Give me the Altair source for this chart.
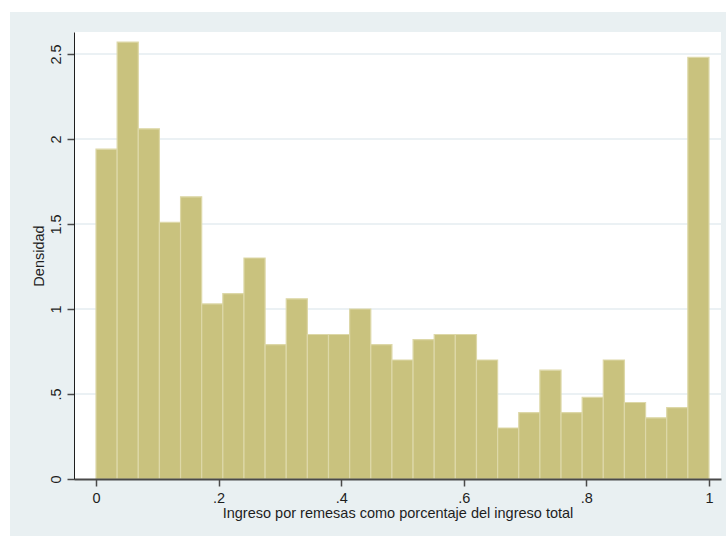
import altair as alt
import pandas as pd

# Histogram of remittance share of total household income (29 equal bins on [0, 1])
n_bins = 29
densities = [1.94, 2.57, 2.06, 1.51, 1.66, 1.03, 1.09, 1.30, 0.79, 1.06,
             0.85, 0.85, 1.00, 0.79, 0.70, 0.82, 0.85, 0.85, 0.70, 0.30,
             0.39, 0.64, 0.39, 0.48, 0.70, 0.45, 0.36, 0.42, 2.48]
x_ticks = [0, 0.2, 0.4, 0.6, 0.8, 1]
y_ticks = [0, 0.5, 1, 1.5, 2, 2.5]
grid_levels = [0.5, 1, 1.5, 2, 2.5]

bin_width = 1 / n_bins
bars = pd.DataFrame({
    "start": [i * bin_width for i in range(n_bins)],
    "end": [(i + 1) * bin_width for i in range(n_bins)],
    "density": densities,
})
grid = pd.DataFrame({"level": grid_levels})

W, H = 647, 447
FONT = "Liberation Sans"
PANEL = "#E9F0F2"
FS = 14.5

x_scale = alt.Scale(domain=[-0.0359, 1.0196], nice=False, zero=False)
y_scale = alt.Scale(domain=[0, 2.6294], nice=False, zero=False)

x_axis = alt.Axis(
    values=x_ticks, labelExpr="replace(format(datum.value, '~g'), '0.', '.')",
    grid=False, domainColor="#4a4a4a", domainWidth=2, tickColor="#4a4a4a",
    tickWidth=1.5, tickSize=7, labelPadding=5, labelFontSize=FS,
    labelFont=FONT, labelColor="#1e1e1e",
    title="Ingreso por remesas como porcentaje del ingreso total",
    titleFont=FONT, titleFontSize=FS, titleFontWeight="normal", titleColor="#1e1e1e",
    titlePadding=2, zindex=1,
)
y_axis = alt.Axis(
    values=y_ticks, labelExpr="replace(format(datum.value, '~g'), '0.', '.')",
    grid=False, domainColor="#1e1e1e", domainWidth=1, tickColor="#4a4a4a",
    tickWidth=1.5, tickSize=7, labelAngle=-90, labelAlign="center", labelBaseline="bottom",
    labelPadding=4, labelFontSize=FS, labelFont=FONT, labelColor="#1e1e1e",
    title="Densidad", titleFont=FONT, titleFontSize=FS, titleFontWeight="normal",
    titleColor="#1e1e1e", titlePadding=2, zindex=1,
)

# light outer panel around the plot region
panel = alt.Chart(bars).mark_rect(color=PANEL).encode(
    x=alt.value(-64), x2=alt.value(652), y=alt.value(-20), y2=alt.value(504)
).transform_filter("datum.start == 0")

# white plot region
plot_bg = alt.Chart(bars).mark_rect(color="white").encode(
    x=alt.value(0), x2=alt.value(W), y=alt.value(0), y2=alt.value(H)
).transform_filter("datum.start == 0")

gridlines = alt.Chart(grid).mark_rule(color="#E4ECF1", strokeWidth=1.5).encode(
    y=alt.Y("level:Q", scale=y_scale, axis=y_axis),
    x=alt.value(0), x2=alt.value(W),
)

hist = alt.Chart(bars).mark_rect(
    color="#C9C27E", stroke="#DDD8A8", strokeWidth=1.2
).encode(
    x=alt.X("start:Q", scale=x_scale, axis=x_axis),
    x2="end:Q",
    y=alt.Y("density:Q", scale=y_scale, axis=y_axis),
    y2=alt.datum(0),
)

chart = alt.layer(panel, plot_bg, gridlines, hist).properties(
    width=W, height=H,
    autosize=alt.AutoSizeParams(type="none"),
    padding={"left": 74, "top": 32, "right": 5, "bottom": 58},
    background="white",
).configure_view(stroke=None)

chart.save("out.html", embed_options={"renderer": "svg", "actions": False})
